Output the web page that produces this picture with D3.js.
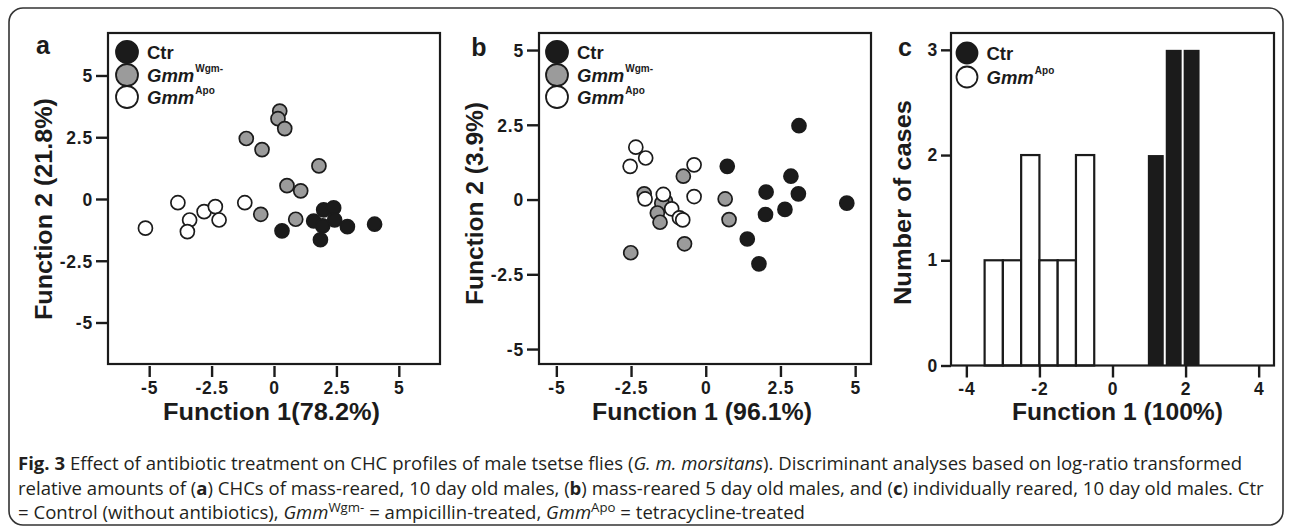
<!DOCTYPE html>
<html><head><meta charset="utf-8">
<script src="https://cdn.jsdelivr.net/npm/d3@7"></script>
<style>
html,body{margin:0;padding:0;background:#fff;}
svg{display:block;}
text{font-family:"Liberation Sans",Arial,Helvetica,sans-serif;}
</style></head>
<body>
<svg id="fig" width="1290" height="527"></svg>
<script>
// ---------- data ----------
const legendLabels = ["Ctr", "Gmm", "Gmm"];
const legendSups = ["", "Wgm-", "Apo"];

// panel a : [Function 1, Function 2]
const aCtr = [[0.32,-1.29],[1.59,-0.89],[1.95,-1.09],[1.86,-1.65],[1.99,-0.44],[2.39,-0.36],[2.43,-0.85],[2.94,-1.12],[4.03,-1.02]];
const aWgm = [[0.23,3.56],[0.16,3.25],[0.43,2.85],[-1.11,2.45],[-0.48,2.0],[1.8,1.34],[0.52,0.54],[1.07,0.33],[-0.53,-0.62],[0.87,-0.82]];
const aApo = [[-3.85,-0.15],[-5.15,-1.18],[-3.38,-0.85],[-3.47,-1.32],[-2.8,-0.51],[-2.35,-0.31],[-2.2,-0.85],[-1.17,-0.15]];

// panel b
const bCtr = [[3.12,2.47],[0.72,1.11],[2.85,0.78],[2.02,0.25],[3.1,0.19],[4.72,-0.12],[2.0,-0.5],[2.65,-0.33],[1.39,-1.32],[1.78,-2.15]];
const bWgm = [[-0.75,0.78],[-2.06,0.19],[-1.35,-0.05],[-1.47,-0.12],[-1.62,-0.45],[-1.53,-0.76],[0.65,0.02],[0.78,-0.67],[-0.71,-1.48],[-2.51,-1.78]];
const bApo = [[-2.34,1.75],[-2.01,1.39],[-2.53,1.11],[-0.39,1.16],[-2.03,0.02],[-1.42,0.17],[-1.14,-0.31],[-0.88,-0.61],[-0.77,-0.68],[-0.39,0.1]];

// panel c : histogram bins [x0, x1, count]
const cApo = [[-3.5,-3,1],[-3,-2.5,1],[-2.5,-2,2],[-2,-1.5,1],[-1.5,-1,1],[-1,-0.5,2]];
const cCtr = [[0.94,1.43,2],[1.43,1.92,3],[1.92,2.41,3]];

const scatterTicks = [-5,-2.5,0,2.5,5];
const cXTicks = [-4,-2,0,2,4];
const cYTicks = [0,1,2,3];

const axisTitles = {
  a: ["Function 1(78.2%)", "Function 2 (21.8%)"],
  b: ["Function 1 (96.1%)", "Function 2 (3.9%)"],
  c: ["Function 1 (100%)", "Number of cases"]
};

// ---------- drawing ----------
const svg = d3.select("#fig");
const INK = "#1b1b1b", GRAY = "#9b9b9b";
const fills = [INK, GRAY, "#ffffff"];

// outer rounded border
svg.append("rect").attr("x",9).attr("y",8).attr("width",1274).attr("height",517)
  .attr("rx",14).attr("fill","none").attr("stroke","#333").attr("stroke-width",1.6);

function frame(x0,x1,y0,y1){
  svg.append("rect").attr("x",x0).attr("y",y1).attr("width",x1-x0).attr("height",y0-y1)
    .attr("fill","none").attr("stroke",INK).attr("stroke-width",2.2);
}
function styleAxis(g){
  g.select(".domain").remove();
  g.selectAll(".tick line").attr("stroke",INK).attr("stroke-width",2.4);
  g.selectAll(".tick text").attr("fill",INK).attr("font-weight","bold").attr("font-size",17.5)
    .attr("letter-spacing","0.8px")
    .style("font-family","'Liberation Sans',Arial,sans-serif");
}
const fmt = d => String(d);

function axes(x,y,xt,yt,left,bottom){
  const gx = svg.append("g").attr("transform",`translate(0,${bottom+2})`)
    .call(d3.axisBottom(x).tickValues(xt).tickFormat(fmt).tickSize(11).tickPadding(5));
  styleAxis(gx);
  const gy = svg.append("g").attr("transform",`translate(${left},0)`)
    .call(d3.axisLeft(y).tickValues(yt).tickFormat(fmt).tickSize(12).tickPadding(3));
  styleAxis(gy);
  gy.selectAll(".tick text").attr("dy","0.36em");
}

function titles(key, xcx, xlen, ybx, ycy, ylen){
  svg.append("text").attr("x",xcx).attr("y",420).attr("text-anchor","middle")
    .attr("font-weight","bold").attr("font-size",23).attr("fill",INK)
    .attr("textLength",xlen).attr("lengthAdjust","spacingAndGlyphs").text(axisTitles[key][0]);
  svg.append("text").attr("transform",`translate(${ybx},${ycy}) rotate(-90)`)
    .attr("text-anchor","middle")
    .attr("font-weight","bold").attr("font-size",23.5).attr("fill",INK)
    .attr("textLength",ylen).attr("lengthAdjust","spacingAndGlyphs").text(axisTitles[key][1]);
}

function panelLetter(t,x,y){
  svg.append("text").attr("x",x).attr("y",y).attr("text-anchor","middle")
    .attr("font-weight","bold").attr("font-size",25).attr("fill",INK).text(t);
}

function legend(x, ys, idx, r){
  idx.forEach((k,i)=>{
    svg.append("circle").attr("cx",x).attr("cy",ys[i]).attr("r",r)
      .attr("fill",fills[k]).attr("stroke",INK).attr("stroke-width",1.8);
    const t = svg.append("text").attr("x",x+r+9).attr("y",ys[i]+7)
      .attr("font-weight","bold").attr("font-size",18.5).attr("fill",INK);
    t.append("tspan").attr("font-style", k===0?"normal":"italic").text(legendLabels[k]);
    if(legendSups[k]) t.append("tspan").attr("font-size",10).attr("dy",-10).attr("dx",1).text(legendSups[k]);
  });
}

function scatter(x,y,sets,r){
  sets.forEach((pts,k)=>{
    svg.append("g").selectAll("circle").data(pts).join("circle")
      .attr("cx",d=>x(d[0])).attr("cy",d=>y(d[1])).attr("r",r)
      .attr("fill",fills[k]).attr("stroke",INK).attr("stroke-width",1.7);
  });
}

// ---- panel a ----
{
  const L=108,R=440,T=33,B=364;
  const x = d3.scaleLinear().domain([-6.65,6.65]).range([L,R]);
  const y = d3.scaleLinear().domain([-6.68,6.72]).range([B,T]);
  frame(L,R,B,T);
  axes(x,y,scatterTicks,scatterTicks,L,B);
  scatter(x,y,[aCtr,aWgm,aApo],7);
  legend(127,[52,75,97],[0,1,2],11);
  titles("a",271.5,217,52,209,222);
  panelLetter("a",43,54);
}
// ---- panel b ----
{
  const L=539,R=871,T=33,B=364;
  const x = d3.scaleLinear().domain([-5.58,5.53]).range([L,R]);
  const y = d3.scaleLinear().domain([-5.5,5.57]).range([B,T]);
  frame(L,R,B,T);
  axes(x,y,scatterTicks,scatterTicks,L,B);
  scatter(x,y,[bCtr,bWgm,bApo],7);
  legend(557,[52,75,97],[0,1,2],11);
  titles("b",702,220,483,203.5,203);
  panelLetter("b",479,56);
}
// ---- panel c ----
{
  const L=951,R=1274,T=33,B=365.5;
  const x = d3.scaleLinear().domain([-4.42,4.42]).range([L,R]);
  const y = d3.scaleLinear().domain([0,3.16]).range([B,T]);
  svg.append("g").selectAll("rect").data(cApo).join("rect")
    .attr("x",d=>x(d[0])).attr("width",d=>x(d[1])-x(d[0]))
    .attr("y",d=>y(d[2])).attr("height",d=>y(0)-y(d[2]))
    .attr("fill","#fff").attr("stroke",INK).attr("stroke-width",2.2);
  svg.append("g").selectAll("rect").data(cCtr).join("rect")
    .attr("x",d=>x(d[0])+1).attr("width",d=>x(d[1])-x(d[0])-2)
    .attr("y",d=>y(d[2])).attr("height",d=>y(0)-y(d[2]))
    .attr("fill",INK);
  frame(L,R,B,T);
  const gx = svg.append("g").attr("transform",`translate(0,${B})`)
    .call(d3.axisBottom(x).tickValues(cXTicks).tickFormat(fmt).tickSize(12).tickPadding(5));
  styleAxis(gx);
  const gy = svg.append("g").attr("transform",`translate(${L},0)`)
    .call(d3.axisLeft(y).tickValues(cYTicks).tickFormat(fmt).tickSize(10).tickPadding(3));
  styleAxis(gy);
  legend(967,[53,77],[0,2],10.5);
  titles("c",1117.5,211,911,202.5,205);
  panelLetter("c",905,56);
}

// ---------- caption ----------
const capFont = "'Open Sans','Noto Sans',sans-serif";
function capLine(y, parts){
  const g = svg.append("g");
  const t = g.append("text").attr("x",0).attr("y",0).attr("font-size",17.5)
    .attr("fill","#231f20").style("font-family",capFont);
  parts.forEach(p=>{
    const s = t.append("tspan").text(p[0]);
    if(p[1]==="b") s.attr("font-weight","bold");
    if(p[1]==="i") s.attr("font-style","italic");
    if(p[1]==="sup") s.attr("font-size",12.5).attr("dy",-7);
    if(p[1]==="down") s.attr("dy",7);
  });
  return {g, w: t.node().getComputedTextLength() || t.node().getBBox().width, y};
}
const capLines = [
  capLine(470,[["Fig. 3","b"],[" Effect of antibiotic treatment on CHC profiles of male tsetse flies ("],["G. m. morsitans","i"],["). Discriminant analyses based on log-ratio transformed"]]),
  capLine(494.5,[["relative amounts of ("],["a","b"],[") CHCs of mass-reared, 10 day old males, ("],["b","b"],[") mass-reared 5 day old males, and ("],["c","b"],[") individually reared, 10 day old males. Ctr"]]),
  capLine(519,[["= Control (without antibiotics), "],["Gmm","i"],["Wgm-","sup"],[" = ampicillin-treated, ","down"],["Gmm","i"],["Apo","sup"],[" = tetracycline-treated","down"]])
];
const sx = Math.min(1225/capLines[0].w, 1250/capLines[1].w);
capLines.forEach(c=>c.g.attr("transform",`translate(18,${c.y}) scale(${sx},1)`));
</script>
</body></html>
